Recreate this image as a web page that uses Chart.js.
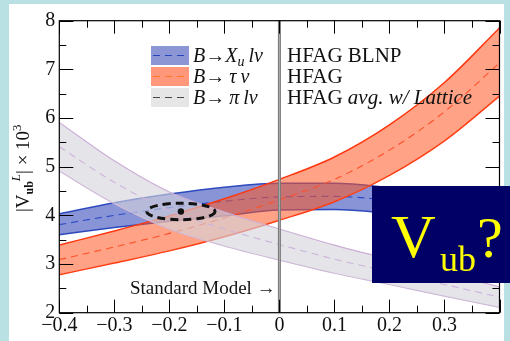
<!DOCTYPE html>
<html>
<head>
<meta charset="utf-8">
<script src="https://cdn.jsdelivr.net/npm/chart.js@4.4.0/dist/chart.umd.min.js"></script>
<style>
html, body { margin: 0; padding: 0; background: #b9e0e3; }
#wrap { width: 510px; height: 341px; }
</style>
</head>
<body>
<div id="wrap"><canvas id="vubChart" width="510" height="341"></canvas></div>
<script>
// values, x = shift, y = |Vub| x 10^3
const xVals = [-0.4, -0.3, -0.2, -0.1, 0, 0.1, 0.2, 0.3, 0.4];

const xuUpper = [4.03, 4.26, 4.44, 4.58, 4.66, 4.66, 4.57, 4.43, 4.27];
const xuMid   = [3.81, 4.00, 4.16, 4.29, 4.38, 4.39, 4.31, 4.18, 4.02];
const xuLower = [3.60, 3.75, 3.88, 3.99, 4.11, 4.12, 4.04, 3.92, 3.77];

const tauUpper = [3.39, 3.68, 3.99, 4.34, 4.74, 5.20, 5.86, 6.73, 7.85];
const tauMid   = [3.09, 3.35, 3.63, 3.95, 4.32, 4.74, 5.34, 6.13, 7.13];
const tauLower = [2.78, 3.02, 3.27, 3.56, 3.90, 4.28, 4.82, 5.53, 6.45];

const piUpper = [5.91, 5.12, 4.48, 4.07, 3.72, 3.39, 3.10, 2.82, 2.53];
const piMid   = [5.41, 4.68, 4.10, 3.72, 3.40, 3.10, 2.84, 2.58, 2.32];
const piLower = [4.91, 4.24, 3.72, 3.37, 3.08, 2.81, 2.58, 2.34, 2.11];

// combined fit: centre and half-axes of the dashed ellipse
const fitCentre = [-0.179, 4.08];
const fitRadius = [0.062, 0.17];

const xTicks = [-0.4, -0.3, -0.2, -0.1, 0, 0.1, 0.2, 0.3];
const yTicks = [2, 3, 4, 5, 6, 7, 8];

const serif = "'Liberation Serif', 'DejaVu Serif', serif";

function pts(ys) {
    return xVals.map((x, i) => ({ x: x, y: ys[i] }));
}

function edge(ys, color, fillColor, order, width) {
    return {
        data: pts(ys),
        borderColor: color,
        borderWidth: width,
        backgroundColor: fillColor,
        fill: fillColor ? '+1' : false,
        pointRadius: 0,
        cubicInterpolationMode: 'monotone',
        order: order
    };
}

function mid(ys, color, order) {
    return {
        data: pts(ys),
        borderColor: color,
        borderWidth: 1.1,
        borderDash: [7, 5],
        fill: false,
        pointRadius: 0,
        cubicInterpolationMode: 'monotone',
        order: order
    };
}

const datasets = [
    edge(xuUpper, 'rgb(45,75,190)', 'rgba(50,70,185,0.58)', 6, 1.5),
    edge(xuLower, 'rgb(45,75,190)', null, 6, 1.5),
    mid(xuMid, 'rgb(45,75,200)', 5),
    edge(tauUpper, 'rgb(255,55,15)', 'rgba(255,85,35,0.55)', 4, 1.5),
    edge(tauLower, 'rgb(255,55,15)', null, 4, 1.5),
    mid(tauMid, 'rgb(255,80,40)', 3),
    edge(piUpper, 'rgb(205,175,215)', 'rgba(212,212,220,0.62)', 2, 1.2),
    edge(piLower, 'rgb(205,175,215)', null, 2, 1.2),
    mid(piMid, 'rgb(205,180,220)', 1)
];

// draw a run of text pieces: [text, font, dy]
function richText(ctx, x, y, parts) {
    parts.forEach(p => {
        ctx.font = p[1];
        ctx.fillText(p[0], x, y + (p[2] || 0));
        x += ctx.measureText(p[0]).width;
    });
    return x;
}

const backdrop = {
    id: 'backdrop',
    beforeDraw(chart) {
        const ctx = chart.ctx;
        ctx.save();
        ctx.fillStyle = '#b9e0e3';
        ctx.fillRect(0, 0, chart.width, chart.height);
        ctx.fillStyle = '#ffffff';
        ctx.fillRect(9, 4, 495, 337);
        ctx.restore();
    }
};

const overlay = {
    id: 'overlay',
    afterDatasetsDraw(chart) {
        const ctx = chart.ctx;
        const xs = chart.scales.x, ys = chart.scales.y;
        const a = chart.chartArea;
        ctx.save();

        // fit ellipse
        ctx.save();
        ctx.beginPath();
        ctx.rect(a.left, a.top, a.right - a.left, a.bottom - a.top);
        ctx.clip();
        const cx = xs.getPixelForValue(fitCentre[0]);
        const cy = ys.getPixelForValue(fitCentre[1]);
        const rx = xs.getPixelForValue(fitCentre[0] + fitRadius[0]) - cx;
        const ry = cy - ys.getPixelForValue(fitCentre[1] + fitRadius[1]);
        ctx.strokeStyle = '#111';
        ctx.lineWidth = 3;
        ctx.setLineDash([8, 5]);
        ctx.beginPath();
        ctx.ellipse(cx, cy, rx, ry, 0, 0, Math.PI * 2);
        ctx.stroke();
        ctx.setLineDash([]);
        ctx.fillStyle = '#111';
        ctx.beginPath();
        ctx.arc(cx, cy, 3.2, 0, Math.PI * 2);
        ctx.fill();
        ctx.restore();

        // standard model line
        const x0 = xs.getPixelForValue(0);
        ctx.fillStyle = 'rgb(120,120,120)';
        ctx.fillRect(x0 - 1.5, a.top, 3, a.bottom - a.top);
        ctx.fillStyle = 'rgb(175,175,175)';
        ctx.fillRect(x0 - 0.5, a.top, 1, a.bottom - a.top);

        // frame with inward ticks
        ctx.strokeStyle = '#000';
        ctx.lineWidth = 1.2;
        ctx.strokeRect(a.left, a.top, a.right - a.left, a.bottom - a.top);
        ctx.lineWidth = 1;
        ctx.beginPath();
        for (let k = 0; k <= 16; k++) {
            const px = Math.round(xs.getPixelForValue(-0.4 + k * 0.05)) + 0.5;
            const len = k % 2 === 0 ? 13 : 7;
            ctx.moveTo(px, a.bottom); ctx.lineTo(px, a.bottom - len);
            ctx.moveTo(px, a.top); ctx.lineTo(px, a.top + len);
        }
        for (let k = 0; k <= 12; k++) {
            const py = Math.round(ys.getPixelForValue(2 + k * 0.5)) + 0.5;
            const len = k % 2 === 0 ? 14 : 7;
            ctx.moveTo(a.left, py); ctx.lineTo(a.left + len, py);
            ctx.moveTo(a.right, py); ctx.lineTo(a.right - len, py);
        }
        ctx.stroke();

        // legend
        const sw = [
            ['rgb(140,150,212)', 'rgb(40,70,190)'],
            ['rgb(255,152,122)', 'rgb(255,120,40)'],
            ['rgb(230,230,230)', 'rgb(70,70,70)']
        ];
        const rowTop = [46, 67, 88];
        sw.forEach((s, i) => {
            ctx.fillStyle = s[0];
            ctx.fillRect(151, rowTop[i], 38, 19);
            ctx.strokeStyle = s[1];
            ctx.lineWidth = 1.2;
            ctx.setLineDash([7, 5]);
            ctx.beginPath();
            ctx.moveTo(153, rowTop[i] + 9.5);
            ctx.lineTo(189, rowTop[i] + 9.5);
            ctx.stroke();
            ctx.setLineDash([]);
        });
        ctx.fillStyle = '#111';
        ctx.textBaseline = 'alphabetic';
        const it = 'italic 20px ' + serif, ar = '20px ' + serif, rm = '21px ' + serif;
        const sm = 'italic 14px ' + serif, rit = 'italic 21px ' + serif;
        richText(ctx, 193, 62, [['B', it], ['\u2192', ar], ['X', it], ['u', sm, 4], ['\u2009l\u03bd', it]]);
        richText(ctx, 193, 83, [['B', it], ['\u2192', ar], ['\u2009\u03c4\u2009\u03bd', it]]);
        richText(ctx, 193, 104, [['B', it], ['\u2192', ar], ['\u2009\u03c0\u2009l\u03bd', it]]);
        richText(ctx, 287, 62, [['HFAG BLNP', rm]]);
        richText(ctx, 287, 83, [['HFAG', rm]]);
        richText(ctx, 287, 104, [['HFAG ', rm], ['avg. w/ Lattice', rit]]);

        // standard model label
        richText(ctx, 130, 294, [['Standard Model \u2192', '19px ' + serif]]);

        // y title, rotated
        ctx.save();
        ctx.translate(29, 212);
        ctx.rotate(-Math.PI / 2);
        richText(ctx, 0, 0, [
            ['|V', '19px ' + serif], ['ub', 'bold 12px ' + serif, 4],
            ['L', 'italic 13px ' + serif, -9], ['| \u00d7 10', '19px ' + serif],
            ['3', '13px ' + serif, -8]
        ]);
        ctx.restore();

        // title box
        ctx.fillStyle = '#000066';
        ctx.fillRect(372, 186, 138, 97);
        ctx.fillStyle = '#ffff00';
        richText(ctx, 391, 257, [['V', '62px ' + serif]]);
        richText(ctx, 440, 271, [['ub', '36px ' + serif]]);
        richText(ctx, 477, 257, [['?', '58px ' + serif]]);

        ctx.restore();
    }
};

new Chart(document.getElementById('vubChart'), {
    type: 'line',
    data: { datasets: datasets },
    plugins: [backdrop, overlay],
    options: {
        responsive: false,
        animation: false,
        devicePixelRatio: 1,
        layout: { padding: { top: 20.7, right: 10.5, left: 0, bottom: 0 } },
        plugins: { legend: { display: false }, tooltip: { enabled: false } },
        scales: {
            x: {
                type: 'linear',
                min: -0.4,
                max: 0.4,
                afterFit: s => { s.height = 28.3; },
                afterBuildTicks: s => { s.ticks = xTicks.map(v => ({ value: v })); },
                grid: { display: false, drawTicks: false },
                border: { display: false },
                ticks: {
                    autoSkip: false,
                    maxRotation: 0,
                    padding: 1,
                    color: '#111',
                    font: { family: serif, size: 20 },
                    callback: v => v === 0 ? '0' : (v < 0 ? '\u2212' : '') + Math.abs(v).toFixed(1)
                }
            },
            y: {
                min: 2,
                max: 8,
                afterFit: s => { s.width = 59.3; },
                afterBuildTicks: s => { s.ticks = yTicks.map(v => ({ value: v })); },
                grid: { display: false, drawTicks: false },
                border: { display: false },
                ticks: {
                    padding: 4,
                    color: '#111',
                    font: { family: serif, size: 20 }
                }
            }
        }
    }
});
</script>
</body>
</html>
